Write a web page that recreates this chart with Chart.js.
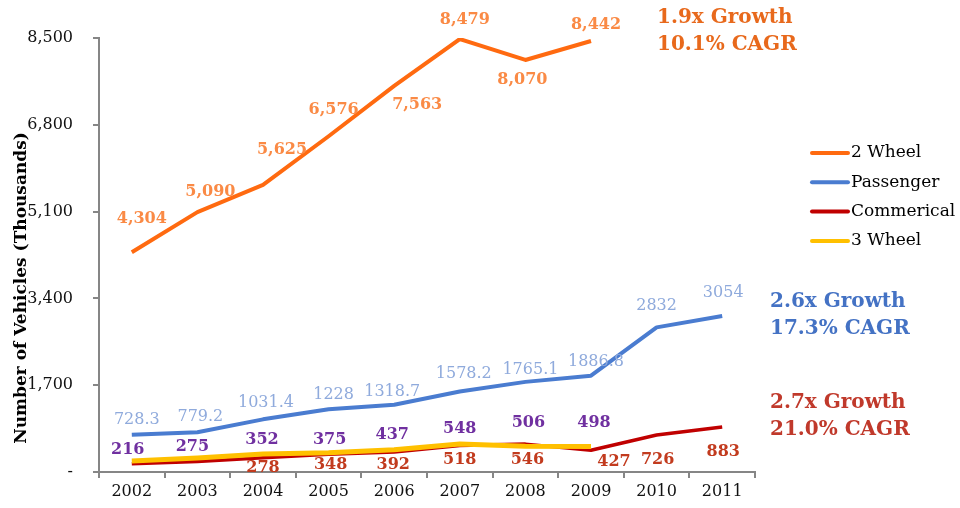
<!DOCTYPE html>
<html>
<head>
<meta charset="utf-8">
<script src="https://cdn.jsdelivr.net/npm/chart.js@4.4.1/dist/chart.umd.min.js"></script>
<style>
  html, body { margin: 0; padding: 0; background: #fff; }
  #wrap { width: 960px; height: 508px; }
</style>
</head>
<body>
<div id="wrap"><canvas id="vehicleChart" width="960" height="508"></canvas></div>
<script>
// data
const years = ["2002", "2003", "2004", "2005", "2006", "2007", "2008", "2009", "2010", "2011"];
const twoWheel = [4304, 5090, 5625, 6576, 7563, 8479, 8070, 8442, null, null];
const passenger = [728.3, 779.2, 1031.4, 1228, 1318.7, 1578.2, 1765.1, 1886.8, 2832, 3054];
const commercial = [162, 204, 278, 348, 392, 518, 546, 427, 726, 883];
const threeWheel = [216, 275, 352, 375, 437, 548, 506, 498, null, null];
const yMax = 8500;
const yStep = 1700;

const serif = "'DejaVu Serif', serif";

// where each value label sits relative to its point (dx, dy), null = no label
const twoWheelOff = [[10, -33], [13, -20], [19, -35], [5, -26], [23, 19], [5, -19], [-3, 20], [5, -16], null, null];
const passengerOff = [[5, -15], [3, -15], [3, -16], [5, -14], [-2, -13], [4, -18], [5, -12], [5, -14], [0, -22], [1, -23]];
const commercialOff = [null, null, [0, 10], [2, 11], [-1, 13], [0, 14], [2, 16], [23, 12], [1, 25], [1, 25]];
const threeWheelOff = [[-4, -11], [-5, -11], [-1, -14], [1, -13], [-2, -15], [0, -15], [3, -23], [3, -24], null, null];

const labelStyles = [
  { font: "bold 16px " + serif, color: "#FA8A45", offsets: twoWheelOff, fmt: v => v.toLocaleString("en-US") },
  { font: "16px " + serif, color: "#8FAADC", offsets: passengerOff, fmt: v => String(v) },
  { font: "bold 16px " + serif, color: "#C23B1E", offsets: commercialOff, fmt: v => String(v) },
  { font: "bold 16px " + serif, color: "#7030A0", offsets: threeWheelOff, fmt: v => String(v) },
];

const pointLabels = {
  id: "pointLabels",
  afterDatasetsDraw(chart) {
    const ctx = chart.ctx;
    chart.data.datasets.forEach((ds, i) => {
      const st = labelStyles[i];
      const meta = chart.getDatasetMeta(i);
      ctx.save();
      ctx.font = st.font;
      ctx.fillStyle = st.color;
      ctx.textAlign = "center";
      ctx.textBaseline = "middle";
      meta.data.forEach((pt, j) => {
        const off = st.offsets[j];
        if (ds.data[j] == null || !off) return;
        ctx.fillText(st.fmt(ds.data[j]), pt.x + off[0], pt.y + off[1]);
      });
      ctx.restore();
    });
  }
};

// legend, growth notes and y title
const extras = {
  id: "extras",
  afterDraw(chart) {
    const ctx = chart.ctx;
    ctx.save();

    // legend
    ctx.font = "17px " + serif;
    ctx.textAlign = "left";
    ctx.textBaseline = "middle";
    chart.data.datasets.forEach((ds, i) => {
      const y = 153 + i * 29.3;
      ctx.strokeStyle = ds.borderColor;
      ctx.lineWidth = 4;
      ctx.lineCap = "round";
      ctx.beginPath();
      ctx.moveTo(812, y);
      ctx.lineTo(848, y);
      ctx.stroke();
      ctx.fillStyle = "#000";
      ctx.fillText(ds.label, 851, y);
    });

    // growth notes
    ctx.font = "bold 20px " + serif;
    const notes = [
      ["1.9x Growth", "10.1% CAGR", "#E8691C", 657, 18],
      ["2.6x Growth", "17.3% CAGR", "#4472C4", 770, 302],
      ["2.7x Growth", "21.0% CAGR", "#C0392B", 770, 403],
    ];
    notes.forEach(n => {
      ctx.fillStyle = n[2];
      ctx.fillText(n[0], n[3], n[4]);
      ctx.fillText(n[1], n[3], n[4] + 27);
    });

    // y axis title
    ctx.font = "bold 17px " + serif;
    ctx.fillStyle = "#000";
    ctx.textAlign = "center";
    ctx.translate(22, 288);
    ctx.rotate(-Math.PI / 2);
    ctx.fillText("Number of Vehicles (Thousands)", 0, 0);
    ctx.restore();
  }
};

const ctx = document.getElementById("vehicleChart").getContext("2d");
const vehicleChart = new Chart(ctx, {
  type: "line",
  data: {
    labels: years,
    datasets: [
      { label: "2 Wheel", data: twoWheel, borderColor: "#FF6A10", borderWidth: 4, order: 4 },
      { label: "Passenger", data: passenger, borderColor: "#4A7CD0", borderWidth: 4, order: 3 },
      { label: "Commerical", data: commercial, borderColor: "#C00000", borderWidth: 3.5, order: 2 },
      { label: "3 Wheel", data: threeWheel, borderColor: "#FFC000", borderWidth: 5, order: 1 },
    ],
  },
  options: {
    responsive: false,
    animation: false,
    devicePixelRatio: 1,
    layout: { padding: { top: 38, right: 205, bottom: 0, left: 0 } },
    elements: {
      point: { radius: 0, hoverRadius: 0 },
      line: { tension: 0, borderJoinStyle: "round", borderCapStyle: "butt" },
    },
    plugins: {
      legend: { display: false },
      tooltip: { enabled: false },
    },
    scales: {
      x: {
        offset: true,
        grid: { offset: true, drawOnChartArea: false, drawTicks: true, tickLength: 6, color: "#868686", lineWidth: 2 },
        border: { color: "#868686", width: 2 },
        ticks: { color: "#111", font: { family: serif, size: 16 }, padding: 4, maxRotation: 0 },
        afterFit: s => { s.height = 36; },
      },
      y: {
        min: 0,
        max: yMax,
        grid: { drawOnChartArea: false, drawTicks: true, tickLength: 6, color: "#868686", lineWidth: 2 },
        border: { color: "#868686", width: 2 },
        ticks: {
          stepSize: yStep,
          color: "#111",
          font: { family: serif, size: 16 },
          padding: 20,
          callback: v => (v === 0 ? "-" : v.toLocaleString("en-US")),
        },
        afterFit: s => { s.width = 99; },
      },
    },
  },
  plugins: [pointLabels, extras],
});
</script>
</body>
</html>
